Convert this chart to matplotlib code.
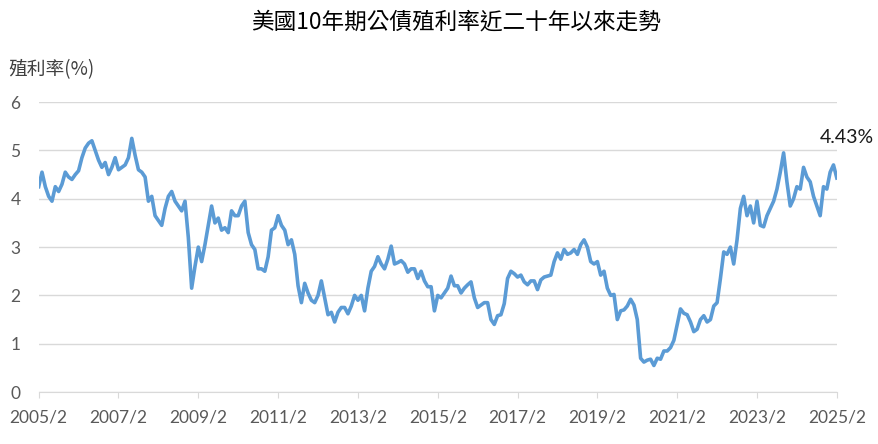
import matplotlib
matplotlib.use("Agg")
import matplotlib.pyplot as plt

plt.rcParams["font.family"] = ["Noto Sans CJK TC", "DejaVu Sans"]

# ---------------------------
# Data: monthly 10Y yield (%), 2005/2 .. 2025/2
# ---------------------------
y2005 = [4.25, 4.55, 4.25, 4.05, 3.95, 4.25, 4.15, 4.30, 4.55, 4.45, 4.40]  # Feb-Dec
y2006 = [4.50, 4.58, 4.85, 5.05, 5.15, 5.20, 5.00, 4.80, 4.65, 4.75, 4.50, 4.65]
y2007 = [4.85, 4.60, 4.65, 4.70, 4.85, 5.25, 4.90, 4.60, 4.55, 4.45, 3.95, 4.05]
y2008 = [3.65, 3.55, 3.45, 3.80, 4.05, 4.15, 3.95, 3.85, 3.75, 3.95, 3.20, 2.15]
y2009 = [2.60, 3.00, 2.70, 3.05, 3.45, 3.85, 3.50, 3.60, 3.35, 3.40, 3.30, 3.75]
y2010 = [3.65, 3.65, 3.85, 3.95, 3.30, 3.05, 2.95, 2.55, 2.55, 2.50, 2.80, 3.35]
y2011 = [3.40, 3.65, 3.45, 3.35, 3.05, 3.15, 2.85, 2.20, 1.85, 2.25, 2.05, 1.90]
y2012 = [1.85, 2.00, 2.30, 1.95, 1.60, 1.65, 1.45, 1.65, 1.75, 1.75, 1.62, 1.78]
y2013 = [2.00, 1.90, 2.00, 1.68, 2.15, 2.50, 2.60, 2.80, 2.65, 2.55, 2.75, 3.02]
y2014 = [2.65, 2.68, 2.72, 2.65, 2.48, 2.55, 2.55, 2.35, 2.50, 2.30, 2.18, 2.18]
y2015 = [1.68, 2.00, 1.95, 2.05, 2.15, 2.40, 2.20, 2.20, 2.05, 2.15, 2.22, 2.28]
y2016 = [1.95, 1.75, 1.80, 1.85, 1.85, 1.50, 1.40, 1.58, 1.60, 1.83, 2.35, 2.50]
y2017 = [2.45, 2.38, 2.42, 2.28, 2.22, 2.30, 2.30, 2.12, 2.32, 2.38, 2.40, 2.42]
y2018 = [2.70, 2.88, 2.75, 2.95, 2.85, 2.88, 2.95, 2.85, 3.05, 3.15, 3.00, 2.70]
y2019 = [2.65, 2.70, 2.42, 2.50, 2.15, 2.00, 2.02, 1.50, 1.68, 1.70, 1.78, 1.92]
y2020 = [1.80, 1.50, 0.70, 0.62, 0.66, 0.68, 0.55, 0.70, 0.68, 0.85, 0.85, 0.92]
y2021 = [1.07, 1.40, 1.72, 1.63, 1.60, 1.45, 1.25, 1.30, 1.50, 1.58, 1.45, 1.50]
y2022 = [1.78, 1.85, 2.35, 2.90, 2.85, 3.00, 2.65, 3.15, 3.80, 4.05, 3.65, 3.85]
y2023 = [3.50, 3.95, 3.45, 3.42, 3.65, 3.80, 3.95, 4.20, 4.55, 4.95, 4.35, 3.85]
y2024 = [4.00, 4.25, 4.20, 4.65, 4.45, 4.35, 4.05, 3.85, 3.65, 4.25, 4.20, 4.55]
y2025 = [4.70, 4.43]  # Jan-Feb

yields = (y2005 + y2006 + y2007 + y2008 + y2009 + y2010 + y2011 + y2012 + y2013
          + y2014 + y2015 + y2016 + y2017 + y2018 + y2019 + y2020 + y2021
          + y2022 + y2023 + y2024 + y2025)
months = list(range(len(yields)))

tick_labels = ["2005/2", "2007/2", "2009/2", "2011/2", "2013/2", "2015/2",
               "2017/2", "2019/2", "2021/2", "2023/2", "2025/2"]
y_ticks = [0, 1, 2, 3, 4, 5, 6]
last_label = "4.43%"

# ---------------------------
# Plot
# ---------------------------
fig = plt.figure(figsize=(8.79, 4.44), dpi=100)
ax = fig.add_axes([0.044, 0.117, 0.908, 0.653])

ax.plot(months, yields, color="#5B9BD5", linewidth=2.6, solid_joinstyle="round")

ax.set_xlim(0, 240)
ax.set_ylim(0, 6)
ax.set_xticks([i * 24 for i in range(len(tick_labels))])
ax.set_xticklabels(tick_labels, fontsize=12.5, color="#595959", family="Lato")
ax.set_yticks(y_ticks)
ax.set_yticklabels([str(v) for v in y_ticks], fontsize=12.5, color="#595959", family="Lato")

ax.grid(axis="y", color="#D9D9D9", linewidth=1)
ax.set_axisbelow(True)
for side in ["left", "right", "top"]:
    ax.spines[side].set_visible(False)
ax.spines["bottom"].set_color("#D9D9D9")
ax.tick_params(axis="x", length=4.5, color="#D9D9D9", pad=8)
ax.tick_params(axis="y", length=0, pad=13)

ax.annotate(last_label, xy=(months[-1], yields[-1]), xytext=(10, 40),
            textcoords="offset pixels", ha="center", va="center",
            fontsize=14, color="#1A1A1A", family="Lato", annotation_clip=False)

fig.text(456 / 879, 1 - 22 / 444, "美國10年期公債殖利率近二十年以來走勢",
         ha="center", va="center", fontsize=16.3, color="black")
fig.text(8 / 879, 1 - 70 / 444, "殖利率(%)", ha="left", va="center",
         fontsize=13.5, color="#404040")

plt.savefig("out.png", dpi=100)
